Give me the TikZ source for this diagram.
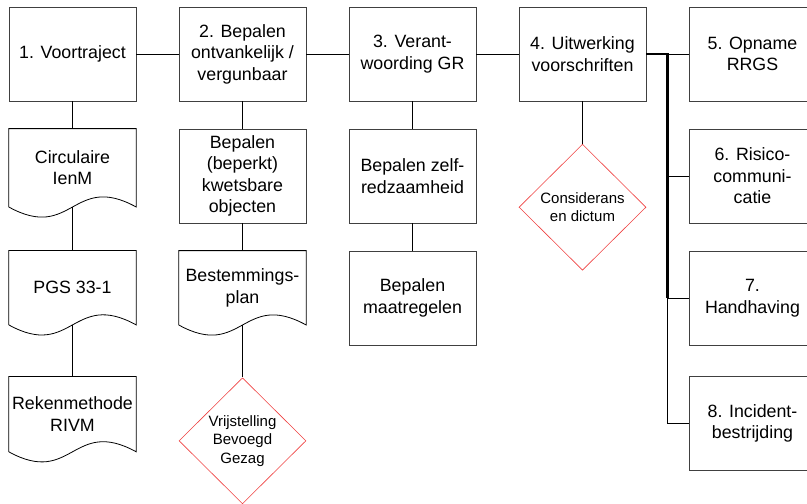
\documentclass[tikz,border=0pt]{standalone}
\usepackage{fontspec}
\setmainfont{Liberation Sans}
\usepackage{xcolor}
\usetikzlibrary{shapes.geometric,positioning,calc}
\definecolor{keuzerood}{RGB}{238,64,64}

\begin{document}
\begin{tikzpicture}[
  node distance=27.2pt and 42.2pt,
  stap/.style={draw=black!75, line width=0.8pt, align=center, inner sep=2pt, minimum width=127pt, minimum height=94pt, font=\fontsize{17.8}{21.5}\selectfont},
  doc/.style={align=center, inner sep=2pt, minimum width=127pt, minimum height=74pt, font=\fontsize{17.8}{21.5}\selectfont},
  keuze/.style={diamond, draw=keuzerood, line width=0.6pt, align=center, inner sep=0pt, minimum width=127pt, minimum height=126pt, font=\fontsize{15}{18.5}\selectfont},
  lijn/.style={line width=1pt},
  dik/.style={line width=2.5pt},
]
\useasboundingbox (0,0) rectangle (807pt,-504pt);
% hoofdstappen
\node[stap] (voor) at (72.5pt,-54pt) {1. Voortraject};
\node[stap, right=of voor] (ontv) {2. Bepalen\\ontvankelijk /\\vergunbaar};
\node[stap, right=of ontv] (verant) {3. Verant-\\woording GR};
\node[stap, right=of verant] (uitw) {4. Uitwerking\\voorschriften};
\node[stap, right=of uitw] (rrgs) {5. Opname\\RRGS};
\node[stap, below=of rrgs] (risico) {6. Risico-\\communi-\\catie};
\node[stap, below=of risico] (handh) {7.\\Handhaving};
\node[stap, below=30.5pt of handh] (incid) {8. Incident-\\bestrijding};
% kolom 1
\node[doc, minimum height=78pt, below=of voor] (circ) {Circulaire\\IenM};
\node[doc, below=43.5pt of circ] (pgs) {PGS 33-1};
\node[doc, minimum height=75pt, below=51.5pt of pgs] (rek) {Rekenmethode\\RIVM};
% kolom 2
\node[stap, below=of ontv] (kwets) {Bepalen\\(beperkt)\\kwetsbare\\objecten};
\node[doc, below=of kwets] (bestem) {Bestemmings-\\plan};
\node[keuze, below=52.5pt of bestem] (vrij) {Vrijstelling\\Bevoegd\\Gezag};
% kolom 3
\node[stap, below=of verant] (zelf) {Bepalen zelf-\\redzaamheid};
\node[stap, below=of zelf] (maatr) {Bepalen\\maatregelen};
% kolom 4
\node[keuze, below=42.5pt of uitw] (consid) {Considerans\\en dictum};

% documentvormen
\foreach \d in {circ,pgs,rek,bestem}
  \draw[draw=black, line width=0.8pt] (\d.south west) -- (\d.north west) -- (\d.north east) -- (\d.south east)
    .. controls ([xshift=-63.5pt,yshift=35pt]\d.south east) and ([xshift=63.5pt,yshift=-35pt]\d.south west) .. (\d.south west);

% verbindingen
\draw[lijn] (voor) -- (ontv);
\draw[lijn] (ontv) -- (verant);
\draw[lijn] (verant) -- (uitw);
\draw[lijn] (voor) -- (circ.north);
\draw[lijn] (circ.south) -- (pgs.north);
\draw[lijn] (pgs.south) -- (rek.north);
\draw[lijn] (ontv) -- (kwets);
\draw[lijn] (kwets) -- (bestem.north);
\draw[lijn] (bestem.south) -- (vrij);
\draw[lijn] (verant) -- (zelf);
\draw[lijn] (zelf) -- (maatr);
\draw[lijn] (uitw) -- (consid);
\coordinate (bus) at ($(uitw.east)!0.5!(rrgs.west)$);
\draw[lijn] (bus) -- (rrgs.west);
\draw[lijn] (bus) |- (risico.west);
\draw[lijn] (bus) |- (handh.west);
\draw[lijn] (bus) |- (incid.west);
\draw[dik] (uitw.east) -- (bus) -- (bus |- handh.west);
\end{tikzpicture}
\end{document}
